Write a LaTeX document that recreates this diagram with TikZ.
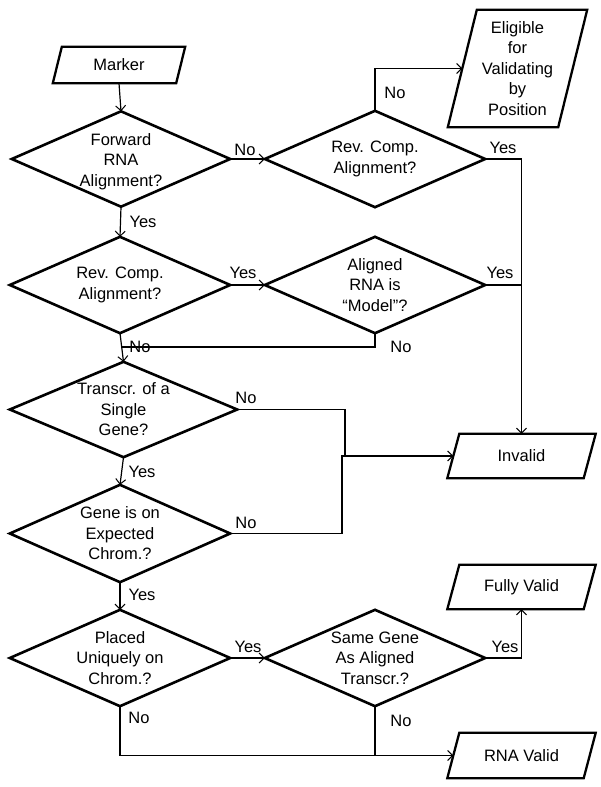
\documentclass[tikz,border=0pt]{standalone}
\usepackage{fontspec}
\setmainfont{Liberation Sans}
\usetikzlibrary{arrows.meta,calc}
\newcommand\drawdiamond[1]{\draw[shapeline] (#1.north) -- (#1.east) -- (#1.south) -- (#1.west) -- cycle;}
\newcommand\drawio[2]{\draw[shapeline,line width=2.3pt] ([xshift=#2]#1.north west) -- ([xshift=#2]#1.north east) -- ([xshift=-#2]#1.south east) -- ([xshift=-#2]#1.south west) -- cycle;}
\begin{document}
\begin{tikzpicture}[x=1pt,y=-1pt,
  every node/.style={font=\fontsize{16.5}{20.5}\selectfont, align=center, inner sep=0pt},
  dec/.style={minimum width=220pt, minimum height=96pt},
  io/.style={minimum height=44pt, minimum width=136pt},
  shapeline/.style={line width=2.6pt, line join=miter},
  conn/.style={line width=1.2pt},
  arr/.style={conn, -{Straight Barb[length=5pt,width=10pt,line width=1pt]}},
  lab/.style={font=\fontsize{16.5}{20}\selectfont}
]
\useasboundingbox (0,0) rectangle (600,787);
% nodes
\node[minimum width=123pt, minimum height=36pt] (m) at (119,65) {Marker};
\node[dec, minimum width=218pt, minimum height=95pt] (d1) at (121,159) {};
\node (t1) at (121,161.5) {Forward\\RNA\\Alignment?};
\node[dec] (d2) at (375,159) {Rev. Comp.\\Alignment?};
\node[minimum width=110pt, minimum height=117pt] (el) at (517.5,68.5) {Eligible\\for\\Validating\\by\\Position};
\node[dec] (d3) at (120,285) {Rev. Comp.\\Alignment?};
\node[dec] (d4) at (375,285) {Aligned\\RNA is\\“Model”?};
\node[dec, minimum width=227pt, minimum height=95pt] (d5) at (123.5,409.5) {Transcr. of a\\Single\\Gene?};
\node[io] (inv) at (521.5,456) {Invalid};
\node[dec, minimum height=97pt] (d6) at (120,533.5) {Gene is on\\Expected\\Chrom.?};
\node[dec] (d7) at (120,658) {Placed\\Uniquely on\\Chrom.?};
\node[dec] (d8) at (375,658) {Same Gene\\As Aligned\\Transcr.?};
\node[io] (fv) at (521.5,587) {Fully Valid};
\node[io, minimum height=45pt] (rv) at (521.5,755.5) {RNA Valid};
% shapes
\drawio{m}{4.5pt}
\drawio{el}{14.5pt}
\drawio{inv}{6pt}
\drawio{fv}{6pt}
\drawio{rv}{6pt}
\drawdiamond{d1}
\drawdiamond{d2}
\drawdiamond{d3}
\drawdiamond{d4}
\drawdiamond{d5}
\drawdiamond{d6}
\drawdiamond{d7}
\drawdiamond{d8}
% coordinates
\coordinate (j1) at (121.5,347);
\coordinate (c1) at (345,456);
\coordinate (c2) at (342,456);
% connectors
\draw[arr] (m.south) -- (d1.north);
\draw[arr] (d1.east) -- (d2.west);
\draw[arr] (d2.north) |- (el.west);
\draw[arr] (d2.east) -| (inv.north);
\draw[arr] (d1.south) -- (d3.north);
\draw[arr] (d3.east) -- (d4.west);
\draw[conn] (d4.east) -- (d4.east -| inv.north);
\draw[arr] (d3.south) -- (d5.north);
\draw[conn] (d4.south) |- (j1);
\draw[conn] (d5.east) -| (c1);
\draw[arr] (d6.east) -| (c2) -- (inv.west);
\draw[arr] (d5.south) -- (d6.north);
\draw[arr] (d6.south) -- (d7.north);
\draw[arr] (d7.east) -- (d8.west);
\draw[arr] (d8.east) -| (fv.south);
\draw[arr] (d7.south) |- (rv.west);
\draw[conn] (d8.south) -- (d8.south |- rv.west);
% labels
\node[lab] (l1) at (245,150) {No};
\node[lab] (l2) at (395,93) {No};
\node[lab] (l3) at (503,148) {Yes};
\node[lab] (l4) at (143,222) {Yes};
\node[lab] (l5) at (243,273) {Yes};
\node[lab] (l6) at (500,273) {Yes};
\node[lab] (l7) at (140,347) {No};
\node[lab] (l8) at (401,347) {No};
\node[lab] (l9) at (246,398) {No};
\node[lab] (l10) at (142,472) {Yes};
\node[lab] (l11) at (246,523) {No};
\node[lab] (l12) at (142,595) {Yes};
\node[lab] (l13) at (248,647) {Yes};
\node[lab] (l14) at (505,647) {Yes};
\node[lab] (l15) at (139,718) {No};
\node[lab] (l16) at (401,721) {No};
\end{tikzpicture}
\end{document}
